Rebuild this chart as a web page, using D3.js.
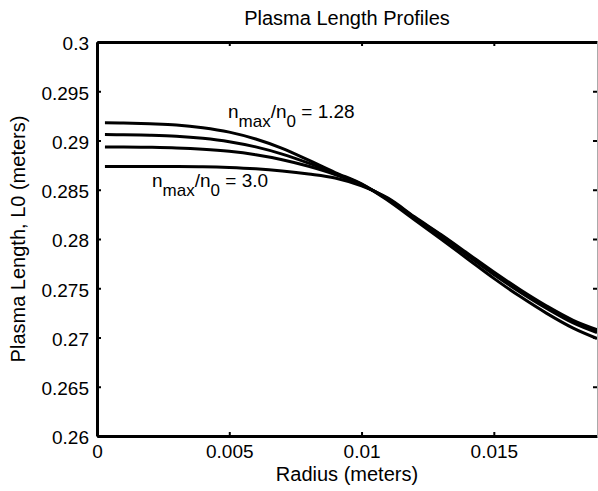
<!DOCTYPE html>
<html>
<head>
<meta charset="utf-8">
<script src="https://cdn.jsdelivr.net/npm/d3@7"></script>
<style>
  html, body { margin: 0; padding: 0; background: #fff; }
  svg { display: block; }
  text { font-family: "Liberation Sans", Arial, Helvetica, sans-serif; fill: #000; }
</style>
</head>
<body>
<svg id="chart" width="598" height="491"></svg>
<script>
// ---- data ----
const radius = [0.0003,0.001,0.002,0.003,0.004,0.005,0.006,0.007,0.008,0.009,0.010,0.011,0.012,0.013,0.014,0.015,0.016,0.017,0.018,0.0189];
const profile128 = [0.29180,0.29178,0.29170,0.29158,0.29130,0.29085,0.29015,0.28920,0.28800,0.28675,0.28560,0.28390,0.28195,0.28000,0.27800,0.27600,0.27415,0.27245,0.27095,0.26990];
const profileB   = [0.29060,0.29058,0.29053,0.29043,0.29022,0.28988,0.28935,0.28862,0.28770,0.28665,0.28555,0.28400,0.28212,0.28027,0.27833,0.27640,0.27460,0.27295,0.27148,0.27050];
const profileC   = [0.28935,0.28934,0.28931,0.28925,0.28912,0.28890,0.28855,0.28805,0.28738,0.28655,0.28550,0.28408,0.28219,0.28037,0.27845,0.27653,0.27473,0.27308,0.27162,0.27065];
const profile30  = [0.28735,0.28736,0.28737,0.28737,0.28734,0.28726,0.28712,0.28690,0.28660,0.28620,0.28540,0.28415,0.28225,0.28045,0.27855,0.27665,0.27485,0.27320,0.27175,0.27080];
const xTicks = [0, 0.005, 0.01, 0.015];
const xTickLabels = ["0", "0.005", "0.01", "0.015"];
const yTicks = [0.26, 0.265, 0.27, 0.275, 0.28, 0.285, 0.29, 0.295, 0.3];
const yTickLabels = ["0.26", "0.265", "0.27", "0.275", "0.28", "0.285", "0.29", "0.295", "0.3"];
const title = "Plasma Length Profiles";
const xLabel = "Radius (meters)";
const yLabel = "Plasma Length, L0 (meters)";

// ---- layout ----
const svg = d3.select("#chart");
const L = 97, R = 597, T = 42, B = 436;
const x = d3.scaleLinear().domain([0, 0.0189]).range([L, R]);
const y = d3.scaleLinear().domain([0.26, 0.3]).range([B, T]);

// curves
const series = [profile128, profileB, profileC, profile30];
const line = d3.line()
  .x((d, i) => x(radius[i]))
  .y(d => y(d))
  .curve(d3.curveCatmullRom.alpha(0.5));
svg.append("g").selectAll("path").data(series).join("path")
  .attr("d", d => line(d))
  .attr("fill", "none")
  .attr("stroke", "#000")
  .attr("stroke-width", 3);

// axes
const axisFont = 19;
const gx = svg.append("g").attr("transform", `translate(0,${B})`)
  .call(d3.axisBottom(x).tickValues(xTicks).tickFormat((d, i) => xTickLabels[i]).tickSizeInner(-4).tickSizeOuter(0).tickPadding(9));
const gxTop = svg.append("g").attr("transform", `translate(0,${T})`)
  .call(d3.axisTop(x).tickValues(xTicks).tickFormat("").tickSizeInner(-4).tickSizeOuter(0));
const gy = svg.append("g").attr("transform", `translate(${L},0)`)
  .call(d3.axisLeft(y).tickValues(yTicks).tickFormat((d, i) => yTickLabels[i]).tickSizeInner(-4).tickSizeOuter(0).tickPadding(8));
const gyR = svg.append("g").attr("transform", `translate(${R},0)`)
  .call(d3.axisRight(y).tickValues(yTicks).tickFormat("").tickSizeInner(-4).tickSizeOuter(0));

[gx, gxTop, gy, gyR].forEach(g => {
  g.selectAll("text").style("font-size", axisFont + "px").attr("font-family", null);
  g.selectAll(".tick line").attr("stroke", "#000").attr("stroke-width", 2);
  g.select(".domain").attr("stroke", "#000").attr("stroke-width", 3);
});
gyR.select(".domain").attr("stroke", "#aaa").attr("stroke-width", 1);
gy.selectAll(".tick text").attr("dy", "0.42em");
gx.selectAll(".tick text").attr("dy", "0.71em");

// title and labels
svg.append("text").attr("x", (L + R) / 2).attr("y", 25).attr("text-anchor", "middle")
  .style("font-size", "20px").text(title);
svg.append("text").attr("x", (L + R) / 2).attr("y", 481).attr("text-anchor", "middle")
  .style("font-size", "20px").text(xLabel);
svg.append("text").attr("transform", `translate(25,${(T + B) / 2}) rotate(-90)`).attr("text-anchor", "middle")
  .style("font-size", "20px").text(yLabel);

// annotations
function annot(px, py, value) {
  const t = svg.append("text").attr("x", px).attr("y", py).style("font-size", "19px");
  t.append("tspan").text("n");
  t.append("tspan").attr("dy", 9).style("font-size", "17px").text("max");
  t.append("tspan").attr("dy", -9).text("/n");
  t.append("tspan").attr("dy", 9).style("font-size", "17px").text("0");
  t.append("tspan").attr("dy", -9).text(" = " + value);
}
annot(228, 118, "1.28");
annot(152, 187, "3.0");
</script>
</body>
</html>
